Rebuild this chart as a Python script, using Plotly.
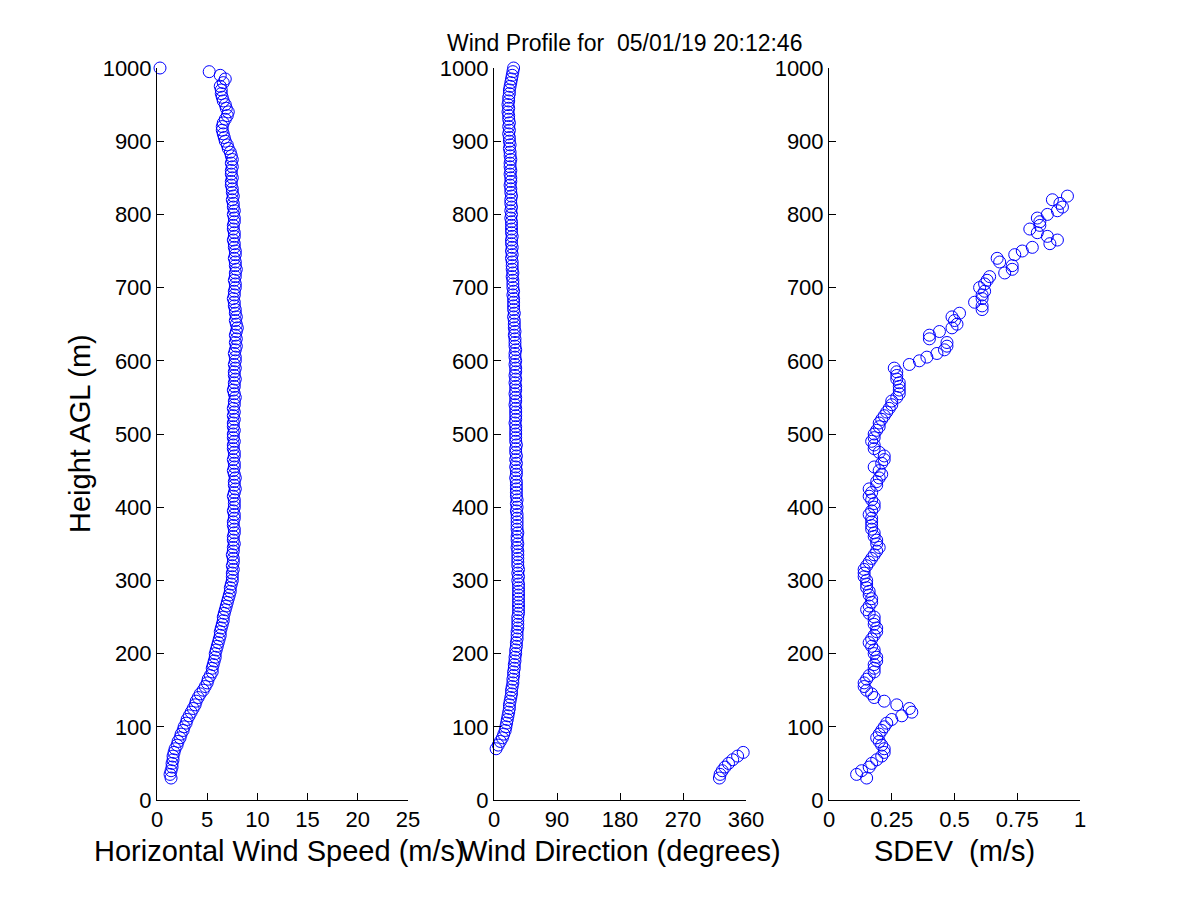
import plotly.graph_objects as go

# measurement levels (m AGL)
heights = [
    30, 35, 40, 45, 50, 55, 60, 65, 70, 75,
    80, 85, 90, 95, 100, 105, 110, 115, 120, 125,
    130, 135, 140, 145, 150, 155, 160, 165, 170, 175,
    180, 185, 190, 195, 200, 205, 210, 215, 220, 225,
    230, 235, 240, 245, 250, 255, 260, 265, 270, 275,
    280, 285, 290, 295, 300, 305, 310, 315, 320, 325,
    330, 335, 340, 345, 350, 355, 360, 365, 370, 375,
    380, 385, 390, 395, 400, 405, 410, 415, 420, 425,
    430, 435, 440, 445, 450, 455, 460, 465, 470, 475,
    480, 485, 490, 495, 500, 505, 510, 515, 520, 525,
    530, 535, 540, 545, 550, 555, 560, 565, 570, 575,
    580, 585, 590, 595, 600, 605, 610, 615, 620, 625,
    630, 635, 640, 645, 650, 655, 660, 665, 670, 675,
    680, 685, 690, 695, 700, 705, 710, 715, 720, 725,
    730, 735, 740, 745, 750, 755, 760, 765, 770, 775,
    780, 785, 790, 795, 800, 805, 810, 815, 820, 825,
    830, 835, 840, 845, 850, 855, 860, 865, 870, 875,
    880, 885, 890, 895, 900, 905, 910, 915, 920, 925,
    930, 935, 940, 945, 950, 955, 960, 965, 970, 975,
    980, 985, 990, 995, 1000,
]

# horizontal wind speed (m/s)
speed = [
    1.4, 1.3, 1.4, 1.5, 1.5, 1.6, 1.6, 1.7, 1.8, 2.0,
    2.1, 2.3, 2.4, 2.6, 2.7, 2.9, 3.0, 3.2, 3.4, 3.6,
    3.8, 3.9, 4.1, 4.3, 4.6, 4.8, 5.0, 5.1, 5.3, 5.5,
    5.5, 5.6, 5.7, 5.8, 5.8, 5.9, 6.0, 6.1, 6.2, 6.3,
    6.3, 6.4, 6.5, 6.6, 6.6, 6.7, 6.8, 6.9, 7.0, 7.1,
    7.2, 7.3, 7.3, 7.4, 7.5, 7.5, 7.5, 7.6, 7.5, 7.6,
    7.6, 7.5, 7.6, 7.6, 7.7, 7.6, 7.6, 7.7, 7.7, 7.6,
    7.6, 7.7, 7.7, 7.6, 7.7, 7.7, 7.7, 7.6, 7.7, 7.8,
    7.7, 7.7, 7.8, 7.7, 7.6, 7.7, 7.7, 7.6, 7.7, 7.7,
    7.6, 7.6, 7.7, 7.6, 7.6, 7.7, 7.6, 7.6, 7.7, 7.6,
    7.7, 7.6, 7.7, 7.7, 7.8, 7.7, 7.6, 7.7, 7.7, 7.8,
    7.7, 7.7, 7.8, 7.7, 7.8, 7.8, 7.7, 7.8, 7.9, 7.8,
    7.9, 7.8, 7.9, 8.0, 7.9, 7.8, 7.9, 7.8, 7.8, 7.7,
    7.7, 7.6, 7.7, 7.7, 7.8, 7.8, 7.7, 7.8, 7.8, 7.9,
    7.8, 7.8, 7.7, 7.8, 7.8, 7.7, 7.7, 7.6, 7.7, 7.7,
    7.6, 7.6, 7.7, 7.7, 7.6, 7.7, 7.6, 7.6, 7.5, 7.6,
    7.5, 7.5, 7.4, 7.4, 7.5, 7.4, 7.4, 7.5, 7.4, 7.5,
    7.4, 7.3, 7.1, 7.0, 6.8, 6.7, 6.6, 6.5, 6.5, 6.6,
    6.8, 7.0, 7.1, 6.9, 6.8, 6.6, 6.5, 6.4, 6.4, 6.3,
    6.6, 6.8, 6.3, 5.2, 0.3,
]

# wind direction (degrees)
direction = [
    322, 323, 326, 330, 335, 341, 348, 356, 3, 6,
    9, 12, 14, 16, 17, 18, 19, 20, 21, 22,
    22, 23, 24, 25, 25, 26, 27, 27, 28, 28,
    29, 29, 30, 30, 31, 31, 32, 32, 33, 33,
    33, 34, 34, 34, 34, 35, 35, 35, 35, 35,
    35, 35, 35, 35, 34, 35, 34, 35, 34, 34,
    34, 34, 34, 33, 34, 33, 33, 34, 33, 33,
    33, 33, 33, 32, 33, 32, 33, 32, 32, 32,
    32, 32, 31, 32, 32, 31, 32, 31, 32, 31,
    31, 32, 31, 31, 31, 31, 31, 30, 31, 31,
    31, 31, 30, 31, 31, 30, 31, 31, 30, 31,
    30, 31, 31, 30, 31, 30, 30, 31, 30, 30,
    30, 29, 30, 29, 29, 29, 28, 29, 28, 28,
    28, 28, 27, 28, 27, 27, 27, 26, 27, 26,
    26, 26, 25, 26, 25, 26, 25, 25, 26, 25,
    25, 25, 25, 24, 25, 24, 25, 24, 24, 25,
    24, 24, 23, 24, 24, 23, 24, 23, 23, 24,
    23, 23, 22, 23, 22, 22, 21, 22, 21, 22,
    21, 21, 20, 21, 20, 21, 21, 22, 22, 23,
    24, 25, 26, 27, 28,
]

# standard deviation (m/s), levels 30..825 m
sdev = [
    0.15, 0.11, 0.13, 0.16, 0.17, 0.19, 0.21, 0.22, 0.22, 0.21,
    0.20, 0.19, 0.20, 0.21, 0.22, 0.23, 0.25, 0.29, 0.33, 0.32,
    0.27, 0.22, 0.18, 0.17, 0.15, 0.14, 0.14, 0.15, 0.16, 0.18,
    0.18, 0.18, 0.19, 0.19, 0.18, 0.18, 0.17, 0.16, 0.17, 0.18,
    0.19, 0.19, 0.18, 0.18, 0.18, 0.16, 0.15, 0.16, 0.17, 0.17,
    0.16, 0.16, 0.15, 0.15, 0.15, 0.14, 0.14, 0.14, 0.15, 0.16,
    0.17, 0.18, 0.19, 0.20, 0.19, 0.19, 0.18, 0.18, 0.17, 0.17,
    0.17, 0.17, 0.16, 0.17, 0.18, 0.18, 0.17, 0.16, 0.17, 0.16,
    0.19, 0.19, 0.20, 0.21, 0.20, 0.18, 0.21, 0.22, 0.22, 0.20,
    0.18, 0.18, 0.17, 0.18, 0.18, 0.19, 0.20, 0.20, 0.21, 0.22,
    0.23, 0.24, 0.25, 0.25, 0.27, 0.28, 0.28, 0.28, 0.28, 0.27,
    0.27, 0.27, 0.26, 0.32, 0.36, 0.39, 0.43, 0.46, 0.47, 0.47,
    0.40, 0.40, 0.44, 0.49, 0.51, 0.50, 0.49, 0.52, 0.61, 0.61,
    0.58, 0.61, 0.61, 0.62, 0.60, 0.62, 0.63, 0.64, 0.70, 0.73,
    0.73, 0.68, 0.67, 0.74, 0.77, 0.81, 0.88, 0.91, 0.87, 0.83,
    0.80, 0.84, 0.84, 0.83, 0.87, 0.91, 0.93, 0.92, 0.89, 0.95,
]
sdev_heights = heights[:len(sdev)]

y_ticks = [0, 100, 200, 300, 400, 500, 600, 700, 800, 900, 1000]
speed_ticks = [0, 5, 10, 15, 20, 25]
dir_ticks = [0, 90, 180, 270, 360]
sdev_ticks = [0, 0.25, 0.5, 0.75, 1]
sdev_ticklabels = ['0', '0.25', '0.5', '0.75', '1']

FONT = 'Liberation Sans, Arial, sans-serif'
marker = dict(symbol='circle-open', size=12, color='#0000ff', line=dict(width=1, color='#0000ff'))

# the page body adds ~8px offset, so convert screen pixels to paper coords
OFF = 8
def px(x):
    return (x - OFF) / 1200
def py(y):
    return 1 - (y - OFF) / 900

fig = go.Figure()
fig.add_trace(go.Scatter(x=speed, y=heights, mode='markers', marker=marker,
                         xaxis='x', yaxis='y', cliponaxis=False))
fig.add_trace(go.Scatter(x=direction, y=heights, mode='markers', marker=marker,
                         xaxis='x2', yaxis='y2', cliponaxis=False))
fig.add_trace(go.Scatter(x=sdev, y=sdev_heights, mode='markers', marker=marker,
                         xaxis='x3', yaxis='y3', cliponaxis=False))

ax_common = dict(showline=True, linecolor='black', linewidth=1, mirror=False,
                 showgrid=False, zeroline=False, ticks='inside', ticklen=7,
                 tickcolor='black', tickwidth=1, automargin=False,
                 tickfont=dict(family=FONT, size=22, color='black'))

y_dom = [py(800), py(68)]
x_doms = [[px(157), px(408)], [px(494), px(746)], [px(829), px(1080)]]

fig.update_layout(
    width=1200, height=900,
    margin=dict(l=0, r=0, t=0, b=0),
    paper_bgcolor='white', plot_bgcolor='white',
    showlegend=False,
    xaxis=dict(domain=x_doms[0], range=[0, 25], tickvals=speed_ticks, anchor='y', **ax_common),
    xaxis2=dict(domain=x_doms[1], range=[0, 360], tickvals=dir_ticks, anchor='y2', **ax_common),
    xaxis3=dict(domain=x_doms[2], range=[0, 1], tickvals=sdev_ticks, ticktext=sdev_ticklabels,
                anchor='y3', **ax_common),
    yaxis=dict(domain=y_dom, range=[0, 1000], tickvals=y_ticks, anchor='x', **ax_common),
    yaxis2=dict(domain=y_dom, range=[0, 1000], tickvals=y_ticks, anchor='x2', **ax_common),
    yaxis3=dict(domain=y_dom, range=[0, 1000], tickvals=y_ticks, anchor='x3', **ax_common),
)

label_font = dict(family=FONT, size=29, color='black')
annotations = [
    dict(text='Horizontal Wind Speed (m/s)', x=px(279), y=py(851)),
    dict(text='Wind Direction (degrees)', x=px(620), y=py(851)),
    dict(text='SDEV  (m/s)', x=px(954), y=py(851)),
]
for a in annotations:
    fig.add_annotation(xref='paper', yref='paper', showarrow=False,
                       xanchor='center', yanchor='middle', font=label_font, **a)

fig.add_annotation(text='Height AGL (m)', xref='paper', yref='paper', x=px(80), y=py(434),
                   textangle=-90, showarrow=False, xanchor='center', yanchor='middle', font=label_font)
fig.add_annotation(text='Wind Profile for  05/01/19 20:12:46', xref='paper', yref='paper',
                   x=px(624), y=py(43), showarrow=False, xanchor='center', yanchor='middle',
                   font=dict(family=FONT, size=23, color='black'))

fig.write_html("out.html")
